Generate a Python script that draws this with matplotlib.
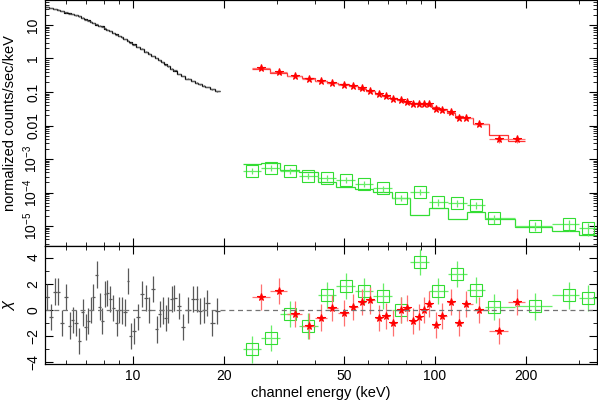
import numpy as np
import matplotlib.pyplot as plt
from matplotlib.ticker import FixedLocator, LogLocator, NullFormatter, FixedFormatter

plt.rcParams['font.family'] = ['Liberation Sans', 'DejaVu Sans']
plt.rcParams['mathtext.fontset'] = 'custom'
plt.rcParams['mathtext.rm'] = 'Liberation Sans'
plt.rcParams['mathtext.it'] = 'Liberation Sans:italic'

# black (low energy) spectrum
blk_e = [5.18, 5.35, 5.52, 5.66, 5.83, 6.00, 6.18, 6.31, 6.48, 6.64, 6.81, 6.99, 7.11,
         7.24, 7.39, 7.58, 7.78, 7.91, 8.08, 8.22, 8.39, 8.61, 8.83, 9.01, 9.17, 9.41,
         9.62, 9.82, 10.08, 10.41, 10.68, 11.04, 11.33, 11.68, 11.98, 12.29, 12.54,
         12.83, 13.09, 13.43, 13.67, 14.24, 14.60, 15.25, 15.77, 16.25, 16.67, 17.19,
         17.54, 18.31, 19.02]
blk_flux = [34, 32, 30, 28.5, 26.5, 24, 22, 21, 19.5, 18, 16.5, 14.5, 13.5, 12.5, 11.5,
            10.5, 9.5, 8.9, 8.0, 7.3, 6.6, 5.8, 5.2, 4.7, 4.3, 3.8, 3.4, 3.0, 2.6, 2.2,
            1.95, 1.6, 1.4, 1.2, 1.02, 0.88, 0.77, 0.66, 0.58, 0.5, 0.44, 0.34, 0.30,
            0.25, 0.21, 0.19, 0.17, 0.155, 0.14, 0.12, 0.105]
blk_chi = [0.98, -0.56, 1.4, 1.4, -1.0, 1.0, -1.2, -0.8, -1.0, -2.4, -0.2, -1.3, -0.85,
           0.0, 0.95, 2.7, 0.25, -0.85, 1.2, 1.3, 0.8, 0.13, -1.0, 0.0, -0.05, -0.2, 2.2,
           -2.0, -1.6, -0.56, 1.2, 0.9, 0.0, 1.6, -1.5, -0.3, -0.05, -0.6, 0.0, 0.8, 0.9,
           0.3, -1.3, 0.0, 0.85, 0.85, -0.1, 0.0, 0.55, -1.0, -0.1]
blk_frac = 0.02

# red (middle) spectrum
red_e = [26.5, 30.4, 34.3, 38.2, 41.8, 45.8, 49.9, 53.7, 57.3, 61.2, 65.1, 68.8, 72.8,
         77.0, 80.6, 84.4, 88.3, 92.2, 95.7, 100.5, 105.8, 113, 120.4, 126.7, 140.2,
         163.3, 186.5]
red_flux = [0.52, 0.386, 0.30, 0.239, 0.213, 0.19, 0.165, 0.148, 0.131, 0.110, 0.085,
            0.076, 0.0605, 0.058, 0.0514, 0.0438, 0.0438, 0.0438, 0.0428, 0.0318, 0.029,
            0.0258, 0.0171, 0.0171, 0.0111, 0.00386, 0.00386]
red_chi = [0.95, 1.46, -0.31, -1.23, -0.59, 0.13, -0.26, 0.21, 0.59, 0.72, -0.64, -0.46,
           -1.03, 0.0, 0.13, -0.85, -0.56, 0.0, 0.46, -1.18, -0.46, 0.59, -1.03, 0.46,
           0.0, -1.59, 0.59]
red_frac = [0.05, 0.05, 0.05, 0.05, 0.05, 0.05, 0.06, 0.06, 0.06, 0.06, 0.07, 0.07, 0.07,
            0.07, 0.08, 0.08, 0.08, 0.08, 0.09, 0.09, 0.1, 0.1, 0.11, 0.11, 0.12, 0.22,
            0.22]

# green (high energy) spectrum
grn_e = [24.8, 28.6, 33.1, 38.1, 43.9, 50.6, 58.2, 67.1, 77.3, 89.2, 102.8, 118.6,
         136.7, 157.6, 214.3, 278.5, 321.8]
grn_flux = [4.48e-4, 5.5e-4, 4.48e-4, 3.18e-4, 2.71e-4, 2.36e-4, 1.79e-4, 1.33e-4,
            7.0e-5, 1.06e-4, 5.1e-5, 4.75e-5, 4.24e-5, 1.69e-5, 1.0e-5, 1.12e-5, 8.5e-6]
grn_chi = [-3.03, -2.13, -0.31, -1.23, 1.15, 1.85, 1.41, 1.03, 0.0, 3.64, 1.41, 2.77,
           1.54, 0.21, 0.26, 1.1, 0.9]
grn_frac = [0.2, 0.2, 0.2, 0.2, 0.2, 0.2, 0.2, 0.2, 0.22, 0.22, 0.24, 0.24, 0.26, 0.3,
            0.3, 0.35, 0.4]


def bin_edges(c):
    lc = np.log10(np.asarray(c, dtype=float))
    mid = (lc[1:] + lc[:-1]) / 2
    return 10 ** np.concatenate([[2 * lc[0] - mid[0]], mid, [2 * lc[-1] - mid[-1]]])


fig = plt.figure(figsize=(5.98, 4.01), dpi=100)
ax1 = fig.add_axes([0.0753, 0.3865, 0.9227, 0.6135])
ax2 = fig.add_axes([0.0753, 0.0923, 0.9227, 0.2942], sharex=ax1)

sets = [
    (blk_e, blk_flux, blk_chi, blk_frac, '0.35', '0.2', 'k', None, 0),
    (grn_e, grn_flux, grn_chi, grn_frac, '#66ee66', '#33dd33', '#33dd33', 's', 8),
    (red_e, red_flux, red_chi, red_frac, '#ff7070', 'red', '#ff3333', '*', 5.5),
]

for e, f, chi, frac, ecol, mcol, lcol, mk, ms in sets:
    e = np.asarray(e)
    f = np.asarray(f)
    chi = np.asarray(chi)
    err = f * np.asarray(frac)
    edg = bin_edges(e)
    xerr = [e - edg[:-1], edg[1:] - e]
    model = f - chi * err

    ax1.stairs(model, edg, baseline=None, color=lcol, lw=0.9)
    ax1.errorbar(e, f, xerr=xerr, yerr=err, fmt='none', ecolor=ecol, elinewidth=0.9)
    ax2.errorbar(e, chi, xerr=xerr, yerr=np.ones_like(chi), fmt='none', ecolor=ecol,
                 elinewidth=0.9)
    if mk is not None:
        face = 'none' if mk == 's' else mcol
        ax1.plot(e, f, ls='none', marker=mk, ms=ms, mfc=face, mec=mcol, mew=0.8)
        ax2.plot(e, chi, ls='none', marker=mk, ms=ms, mfc=face, mec=mcol, mew=0.8)

ax2.axhline(0, color='0.45', ls=(0, (4, 3)), lw=0.9)

ax1.set_xscale('log')
ax1.set_yscale('log')
ax1.set_xlim(5.11, 344)
ax1.set_ylim(2.53e-6, 55.7)
ax2.set_ylim(-4.14, 4.88)

for ax in (ax1, ax2):
    ax.tick_params(which='both', direction='in', top=True, right=True, labelsize=10)
    ax.tick_params(which='major', length=6, width=0.8)
    ax.tick_params(which='minor', length=3, width=0.6)
    for s in ax.spines.values():
        s.set_linewidth(0.9)

xmaj = [10, 20, 50, 100, 200]
ax2.xaxis.set_major_locator(FixedLocator(xmaj))
ax2.xaxis.set_major_formatter(FixedFormatter([str(v) for v in xmaj]))
ax2.xaxis.set_minor_locator(LogLocator(base=10, subs=np.arange(1, 10), numticks=20))
ax2.xaxis.set_minor_formatter(NullFormatter())
ax1.tick_params(labelbottom=False)

ymaj = [1e-5, 1e-4, 1e-3, 0.01, 0.1, 1, 10]
ylab = [r'$10^{-5}$', r'$10^{-4}$', r'$10^{-3}$', '0.01', '0.1', '1', '10']
ax1.yaxis.set_major_locator(FixedLocator(ymaj))
ax1.yaxis.set_major_formatter(FixedFormatter(ylab))
ax1.yaxis.set_minor_locator(LogLocator(base=10, subs=np.arange(2, 10), numticks=20))
ax1.yaxis.set_minor_formatter(NullFormatter())
for lab in ax1.get_yticklabels():
    lab.set_rotation(90)
    lab.set_va('center')

ax2.set_yticks([-4, -2, 0, 2, 4])
ax2.set_yticks(np.arange(-4, 5, 1), minor=True)
for lab in ax2.get_yticklabels():
    lab.set_rotation(90)
    lab.set_va('center')

ax1.set_ylabel('normalized counts/sec/keV', fontsize=10.5)
ax2.set_ylabel(r'$\chi$', fontsize=12)
ax2.set_xlabel('channel energy (keV)', fontsize=10.5, labelpad=2)
ax1.yaxis.set_label_coords(-0.05, 0.5)
ax2.yaxis.set_label_coords(-0.05, 0.5)

fig.savefig('out.png', dpi=100)
